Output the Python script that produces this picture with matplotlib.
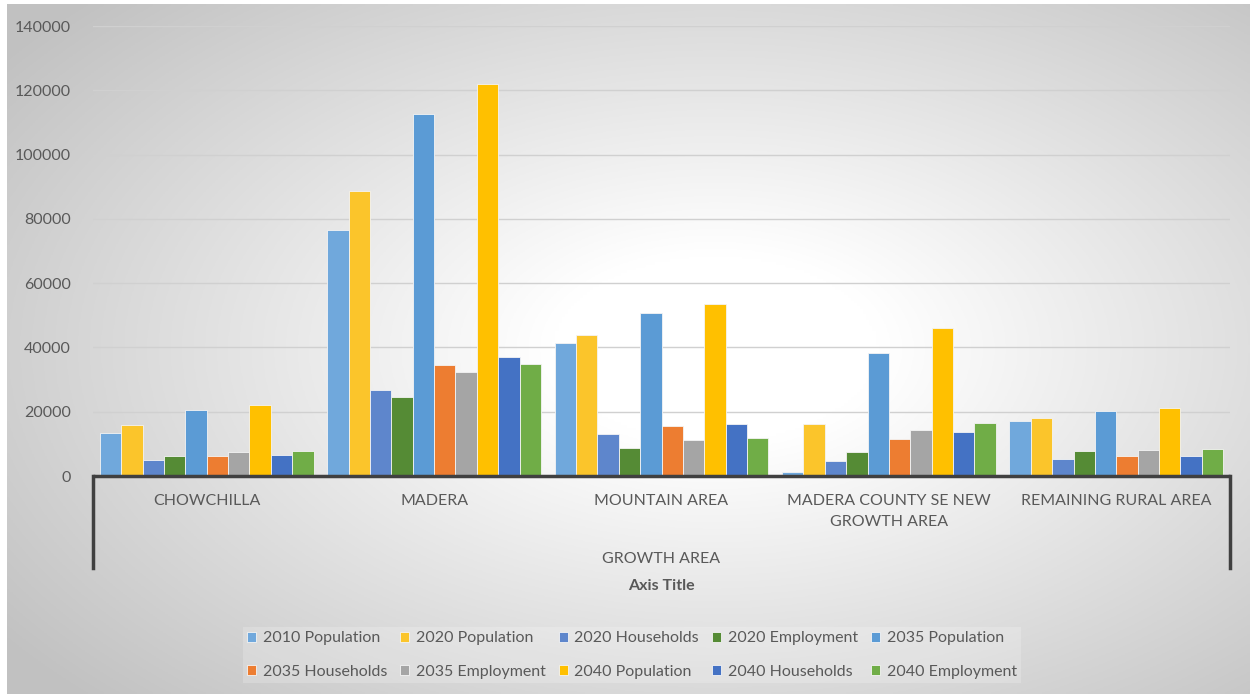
import numpy as np
import matplotlib
matplotlib.use('Agg')
from matplotlib import pyplot as plt

plt.rcParams['font.family'] = ['Lato', 'DejaVu Sans']

categories = ['CHOWCHILLA', 'MADERA', 'MOUNTAIN AREA',
              'MADERA COUNTY SE NEW\nGROWTH AREA', 'REMAINING RURAL AREA']
series_names = ['2010 Population', '2020 Population', '2020 Households', '2020 Employment',
                '2035 Population', '2035 Households', '2035 Employment', '2040 Population',
                '2040 Households', '2040 Employment']
pop_2010 = [13500, 76500, 41300, 1300, 17200]
pop_2020 = [15900, 88700, 43900, 16100, 18000]
hh_2020 = [5000, 26700, 13100, 4800, 5200]
emp_2020 = [6200, 24700, 8800, 7400, 7700]
pop_2035 = [20500, 112700, 50600, 38200, 20100]
hh_2035 = [6200, 34600, 15700, 11500, 6200]
emp_2035 = [7500, 32300, 11100, 14200, 8100]
pop_2040 = [22000, 122000, 53500, 46000, 21300]
hh_2040 = [6500, 37000, 16100, 13700, 6200]
emp_2040 = [7800, 35000, 11800, 16400, 8500]
colors = ['#70A8DC', '#FBC52B', '#5E86CC', '#558B35', '#5B9BD5',
          '#ED7D31', '#A5A5A5', '#FFC000', '#4472C4', '#70AD47']
yticks = [0, 20000, 40000, 60000, 80000, 100000, 120000, 140000]

series = [pop_2010, pop_2020, hh_2020, emp_2020, pop_2035,
          hh_2035, emp_2035, pop_2040, hh_2040, emp_2040]

W, H = 1250, 694
fig = plt.figure(figsize=(W / 100, H / 100), dpi=100)

# chart area with radial gradient
bg = fig.add_axes([7 / W, 0, 1 - 7 / W, 1 - 4 / H], zorder=0)
gx, gy = np.meshgrid(np.linspace(0, 1, 400), np.linspace(0, 1, 250))
cx, cy = 0.57, 0.5
d = np.sqrt(((gx - cx) / 0.6) ** 2 + ((gy - cy) / 0.62) ** 2)
t = np.clip((d - 0.22) / 0.95, 0, 1)
g = 1 - 0.24 * t
bg.imshow(np.dstack([g, g, g]), aspect='auto', extent=[0, 1, 0, 1], origin='upper')
bg.set_axis_off()

left, right = 93 / W, 1230 / W
ax = fig.add_axes([left, 1 - 476 / H, right - left, 450 / H], zorder=1)
ax.patch.set_alpha(0)

x = np.arange(len(categories))
n = len(series)
bw = 0.094
handles = []
for i, (vals, col, name) in enumerate(zip(series, colors, series_names)):
    b = ax.bar(x + (i - (n - 1) / 2) * bw, vals, bw, color=col, label=name,
               edgecolor='#f4f4f4', linewidth=0.6, zorder=3)
    handles.append(b)

ax.set_xlim(-0.5, len(categories) - 0.5)
ax.set_ylim(0, 140000)
ax.set_yticks(yticks)
ax.set_yticklabels([str(v) for v in yticks], fontsize=11.5, color='#595959')
ax.tick_params(axis='y', length=0, pad=16)
ax.tick_params(axis='x', length=0)
ax.set_xticks([])
ax.grid(axis='y', color='#d0d0d0', linewidth=1, zorder=0)
for s in ['top', 'right', 'left', 'bottom']:
    ax.spines[s].set_visible(False)

# category axis box
ax.plot([-0.5, len(categories) - 0.5], [0, 0], color='#404040', lw=2.5,
        clip_on=False, zorder=4, solid_capstyle='butt')
ax.plot([-0.5, -0.5], [0, -28500], color='#404040', lw=2.5, clip_on=False, zorder=4)
ax.plot([len(categories) - 0.5] * 2, [0, -28500], color='#404040', lw=2.5,
        clip_on=False, zorder=4)
for xi, c in zip(x, categories):
    ax.text(xi, -5600, c, ha='center', va='top', fontsize=11.5, color='#595959',
            linespacing=1.65)

ax.text(2, -25800, 'GROWTH AREA', ha='center', va='center', fontsize=11.5, color='#595959')
ax.text(2, -34300, 'Axis Title', ha='center', va='center', fontsize=11.5,
        color='#595959', fontweight='bold')

order = [0, 5, 1, 6, 2, 7, 3, 8, 4, 9]
leg = fig.legend([handles[i] for i in order], [series_names[i] for i in order],
                 loc='center', bbox_to_anchor=(632 / W, 1 - 655 / H), ncol=5,
                 fontsize=11.5, frameon=True, handlelength=0.55, handleheight=0.55,
                 handletextpad=0.4, columnspacing=0.85, labelspacing=1.2,
                 borderpad=0.3)
leg.get_frame().set_facecolor('white')
leg.get_frame().set_alpha(0.2)
leg.get_frame().set_edgecolor('none')
leg.get_frame().set_boxstyle('square', pad=0)
for txt in leg.get_texts():
    txt.set_color('#595959')

fig.savefig('out.png', dpi=100)
